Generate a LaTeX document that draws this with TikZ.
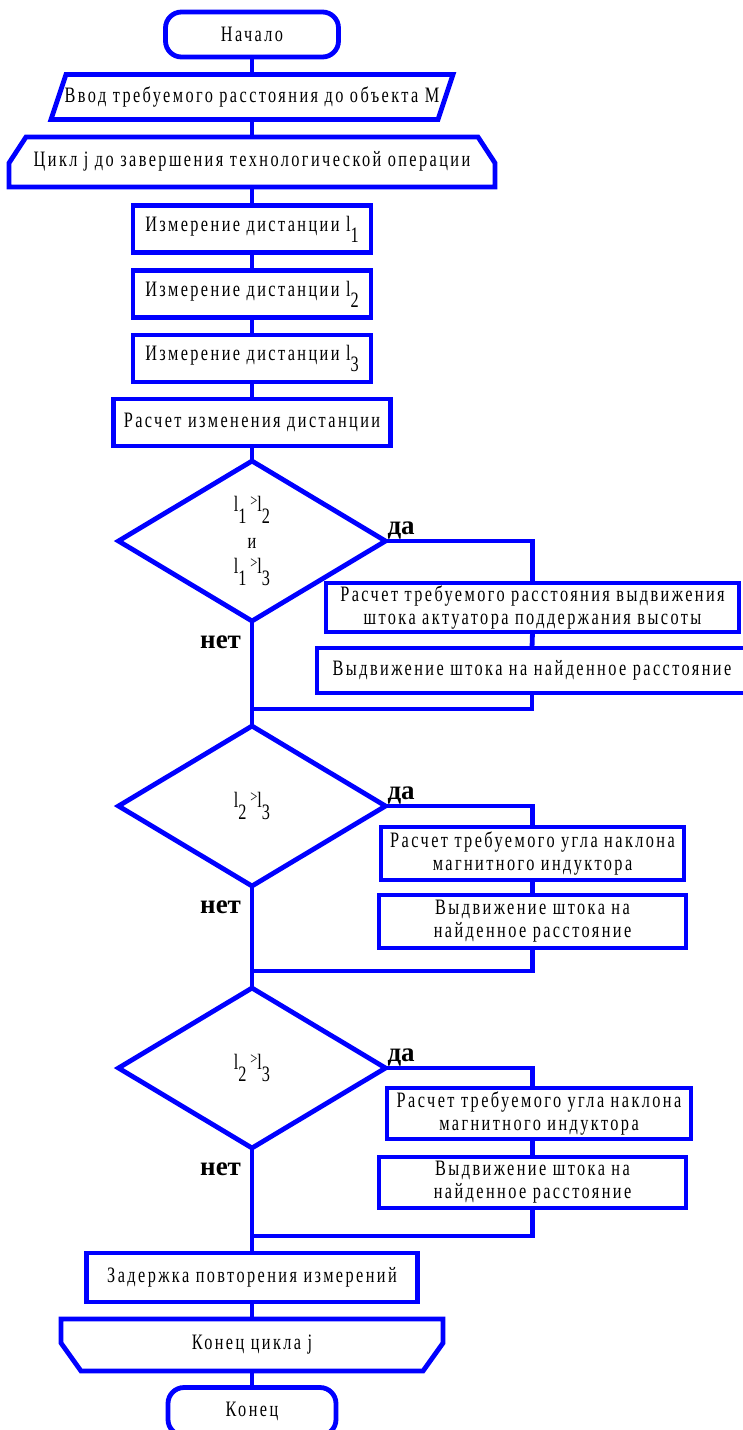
\documentclass[tikz,border=0pt]{standalone}
\usepackage{fontspec}
\setmainfont{Liberation Serif}[FakeStretch=0.74,LetterSpace=11]
\newfontfamily\labfont{Liberation Serif}
\usetikzlibrary{shapes.geometric}
\definecolor{flowblue}{RGB}{0,0,255}
\newcommand\lsub[1]{\raisebox{-1.1ex}{#1}}
\newcommand\cmpgt{\,\raisebox{.5ex}{\fontsize{8.5}{8.5}\selectfont >}}
\tikzset{
  line/.style={draw=flowblue,line width=2.4pt},
  box/.style={line,rectangle,inner sep=0pt},
  term/.style={box,rounded corners=8pt},
  cond/.style={line,diamond,inner sep=0pt,minimum width=133.5pt,minimum height=80pt},
  yes/.style={font=\labfont\bfseries\fontsize{13.5}{14}\selectfont,inner sep=0pt,anchor=base west},
  no/.style={font=\labfont\bfseries\fontsize{13.5}{14}\selectfont,inner sep=0pt,anchor=base east}}
\begin{document}
\begin{tikzpicture}[x=0.5pt,y=-0.5pt,
  every node/.style={outer sep=0pt,align=center,font=\fontsize{11}{11.5}\selectfont}]
\useasboundingbox[fill=white] (0,0) rectangle (743,1430);
% main column
\node[term,minimum width=86.5pt,minimum height=22.5pt] (start) at (252,34.5) {Начало};
\node[minimum width=201pt,minimum height=22.5pt] (inp) at (252,97) {Ввод требуемого расстояния до объекта М};
\draw[line] ([xshift=7.5pt]inp.north west) -- (inp.north east) -- ([xshift=-7.5pt]inp.south east) -- (inp.south west) -- cycle;
\node[minimum width=243pt,minimum height=25pt,text depth=3pt] (ls) at (252,162) {Цикл j до завершения технологической операции};
\draw[line] (ls.south west) -- ([yshift=-13pt]ls.north west) -- ([xshift=8.5pt]ls.north west) -- ([xshift=-8.5pt]ls.north east) -- ([yshift=-13pt]ls.north east) -- (ls.south east) -- cycle;
\foreach \i/\y in {1/229,2/294,3/358.5}
  \node[box,minimum width=119pt,minimum height=23.5pt] (m\i) at (252,\y) {Измерение дистанции l\lsub{\i}};
\node[box,minimum width=138.5pt,minimum height=23.5pt] (calc) at (252,422.5) {Расчет изменения дистанции};
\node[cond] (d1) at (252,541) {l\lsub{1}\cmpgt l\lsub{2}\\[7pt]и\\[1pt]l\lsub{1}\cmpgt l\lsub{3}};
\node[cond] (d2) at (252,806) {l\lsub{2}\cmpgt l\lsub{3}};
\node[cond] (d3) at (252,1068) {l\lsub{2}\cmpgt l\lsub{3}};
\node[box,minimum width=165.5pt,minimum height=24.5pt] (delay) at (252,1277.5) {Задержка повторения измерений};
\node[minimum width=191pt,minimum height=26pt] (le) at (252,1345) {Конец цикла j};
\draw[line] (le.north west) -- ([yshift=14pt]le.south west) -- ([xshift=10pt]le.south west) -- ([xshift=-10pt]le.south east) -- ([yshift=14pt]le.south east) -- (le.north east) -- cycle;
\node[term,minimum width=84pt,minimum height=24pt] (end) at (252,1411.5) {Конец};
% branches
\node[box,minimum width=206.5pt,minimum height=24.5pt] (b1a) at (532.5,607.5) {Расчет требуемого расстояния выдвижения\\штока актуатора поддержания высоты};
\node[box,minimum width=215pt,minimum height=22.5pt] (b1b) at (532,670.5) {Выдвижение штока на найденное расстояние};
\node[box,minimum width=151.5pt,minimum height=26.5pt] (b2a) at (532.5,853.5) {Расчет требуемого угла наклона\\магнитного индуктора};
\node[box,minimum width=153.5pt,minimum height=26.5pt] (b2b) at (532.5,921.5) {Выдвижение штока на\\найденное расстояние};
\node[box,minimum width=152pt,minimum height=25.5pt] (b3a) at (539,1113.5) {Расчет требуемого угла наклона\\магнитного индуктора};
\node[box,minimum width=153.5pt,minimum height=25.5pt] (b3b) at (532.5,1182.5) {Выдвижение штока на\\найденное расстояние};
\coordinate (j1) at (252,709);
\coordinate (j2) at (252,971);
\coordinate (j3) at (252,1236);
% connectors
\foreach \a/\b in {start/inp,inp/ls,ls/m1,m1/m2,m2/m3,m3/calc,calc/d1,d1/d2,d2/d3,d3/delay,delay/le,le/end}
  \draw[line] (\a.south) -- (\b.north);
\draw[line] (d1.east) -| (b1a.north);
\draw[line] (b1a.south) -- (b1b.north);
\draw[line] (b1b.south) |- (j1);
\draw[line] (d2.east) -| (b2a.north);
\draw[line] (b2a.south) -- (b2b.north);
\draw[line] (b2b.south) |- (j2);
\draw[line] (d3.east) -| (b3b.north |- b3a.north);
\draw[line] (b3a.south -| b3b.north) -- (b3b.north);
\draw[line] (b3b.south) |- (j3);
% yes / no labels
\foreach \d in {1,2,3}{
  \node[yes] (y\d) at ([shift={(1pt,3.5pt)}]d\d.east) {да};
  \node[no] (n\d) at ([shift={(-5.5pt,-13.5pt)}]d\d.south) {нет};}
\end{tikzpicture}
\end{document}
